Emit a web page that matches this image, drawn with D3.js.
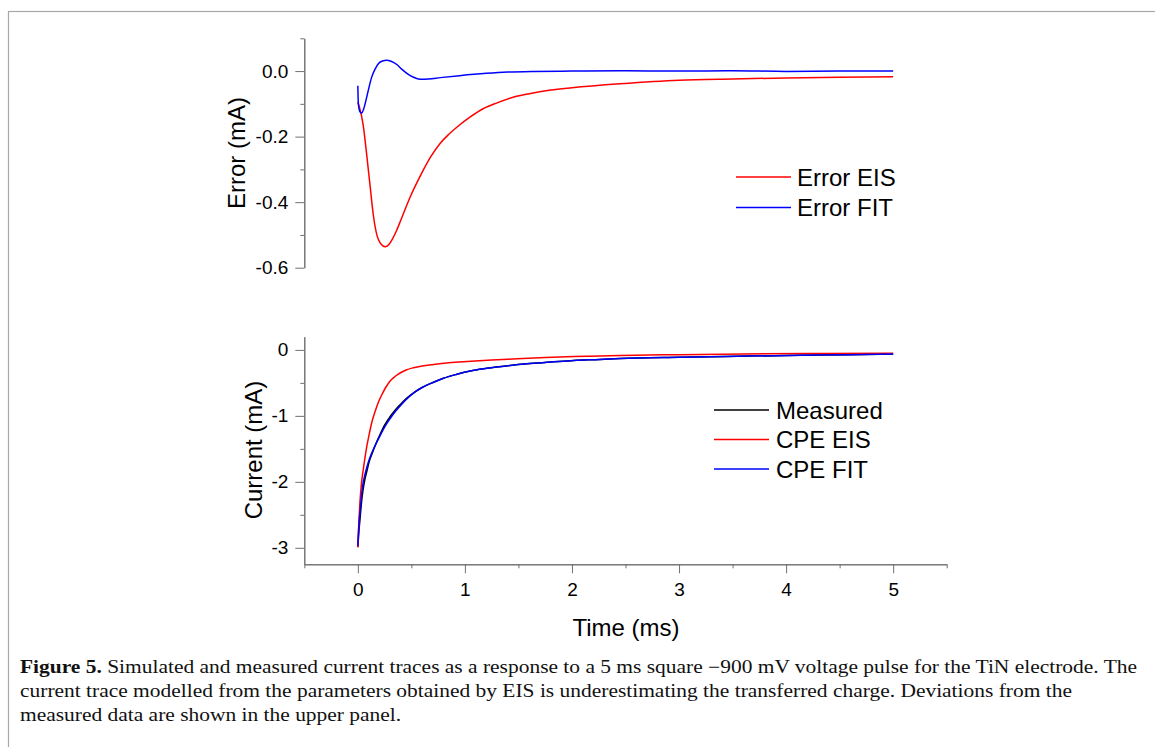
<!DOCTYPE html>
<html>
<head>
<meta charset="utf-8">
<script src="https://cdn.jsdelivr.net/npm/d3@7"></script>
<style>
  body { margin: 0; background: #fff; }
  svg { display: block; }
  .axis text { font-family: "Liberation Sans", Arial, sans-serif; font-size: 19px; fill: #000; }
  .axis path, .axis line { stroke: #707070; }
</style>
</head>
<body>
<svg id="drawing_region"></svg>
<script>
// upper panel: error traces (mA) vs time (ms)
const errEisTime = [0, 0.015, 0.05, 0.085, 0.115, 0.145, 0.18, 0.21, 0.255, 0.29, 0.32, 0.36, 0.40, 0.45, 0.50, 0.56, 0.61, 0.68, 0.77, 0.85, 0.93, 1.05, 1.17, 1.3, 1.45, 1.6, 1.8, 2.0, 2.45, 3.0, 3.5, 4.0, 4.5, 5.0];
const errEis = [-0.095, -0.11, -0.165, -0.262, -0.352, -0.44, -0.503, -0.525, -0.536, -0.529, -0.514, -0.488, -0.456, -0.415, -0.376, -0.335, -0.303, -0.262, -0.22, -0.193, -0.17, -0.14, -0.115, -0.097, -0.08, -0.069, -0.058, -0.051, -0.039, -0.028, -0.024, -0.021, -0.019, -0.017];

const errFitTime = [0, 0.005, 0.02, 0.037, 0.055, 0.084, 0.11, 0.131, 0.16, 0.193, 0.23, 0.271, 0.31, 0.364, 0.41, 0.458, 0.52, 0.582, 0.66, 0.77, 0.95, 1.2, 1.4, 1.64, 2.0, 2.45, 3.0, 3.5, 4.0, 4.5, 5.0];
const errFit = [-0.045, -0.1, -0.124, -0.128, -0.115, -0.078, -0.042, -0.017, 0.005, 0.023, 0.031, 0.033, 0.03, 0.02, 0.006, -0.007, -0.019, -0.025, -0.024, -0.02, -0.014, -0.007, -0.003, -0.001, 0.0, 0.001, 0.0, 0.001, -0.001, 0.0, 0.0];

// lower panel: current traces (mA) vs time (ms)
const curTime = [0, 0.01, 0.021, 0.035, 0.047, 0.065, 0.084, 0.105, 0.131, 0.17, 0.208, 0.25, 0.302, 0.35, 0.395, 0.45, 0.52, 0.6, 0.707, 0.8, 0.925, 1.05, 1.205, 1.4, 1.58, 1.8, 2.016, 2.26, 2.45, 3.0, 3.64, 4.3, 5.0];
const measured = [-2.99, -2.75, -2.55, -2.3, -2.14, -1.97, -1.84, -1.7, -1.58, -1.42, -1.28, -1.14, -1.01, -0.91, -0.83, -0.74, -0.65, -0.57, -0.49, -0.43, -0.37, -0.32, -0.28, -0.24, -0.21, -0.185, -0.16, -0.145, -0.13, -0.11, -0.094, -0.078, -0.064];
const cpeFit = [-2.97, -2.65, -2.45, -2.2, -2.04, -1.9, -1.78, -1.67, -1.56, -1.42, -1.30, -1.17, -1.04, -0.935, -0.85, -0.755, -0.655, -0.57, -0.49, -0.43, -0.37, -0.32, -0.28, -0.24, -0.21, -0.185, -0.16, -0.145, -0.13, -0.11, -0.094, -0.078, -0.064];

const eisTime = [0, 0.01, 0.02, 0.031, 0.052, 0.07, 0.084, 0.1, 0.115, 0.135, 0.162, 0.19, 0.224, 0.26, 0.302, 0.35, 0.395, 0.45, 0.52, 0.6, 0.707, 0.85, 1.02, 1.25, 1.49, 1.7, 1.95, 2.26, 2.45, 3.0, 3.6, 4.3, 5.0];
const cpeEis = [-2.99, -2.6, -2.3, -2.07, -1.8, -1.6, -1.46, -1.33, -1.21, -1.07, -0.93, -0.8, -0.68, -0.57, -0.47, -0.4, -0.35, -0.305, -0.27, -0.243, -0.22, -0.195, -0.175, -0.153, -0.135, -0.12, -0.104, -0.094, -0.086, -0.072, -0.062, -0.055, -0.049];

const xTicks = [0, 1, 2, 3, 4, 5];
const errTicks = [-0.6, -0.4, -0.2, 0.0];
const curTicks = [-3, -2, -1, 0];

const captionLines = [
  ["Figure 5.", " Simulated and measured current traces as a response to a 5 ms square \u2212900 mV voltage pulse for the TiN electrode. The"],
  ["", "current trace modelled from the parameters obtained by EIS is underestimating the transferred charge. Deviations from the"],
  ["", "measured data are shown in the upper panel."]
];

const zip = (xs, ys) => xs.map((x, i) => ({ x: x, y: ys[i] }));

const W = 1155, H = 747;
const svg = d3.select('#drawing_region').attr('width', W).attr('height', H);

// page frame
svg.append('rect')
  .attr('x', 8.5).attr('y', 11.5)
  .attr('width', 1200).attr('height', 800)
  .attr('fill', 'none').attr('stroke', '#a8a8a8').attr('stroke-width', 1.2);

const xscale = d3.scaleLinear().domain([-0.5, 5.5]).range([304.3, 946.7]);
const yErr = d3.scaleLinear().domain([-0.6, 0.1]).range([267.7, 38.3]);
const yCur = d3.scaleLinear().domain([-3.25, 0.2]).range([564.3, 336.7]);

function yAxis(scale, major, minor, fmt) {
  const g = svg.append('g').attr('class', 'axis')
    .attr('transform', `translate(${xscale.range()[0]},0)`);
  g.append('g').call(d3.axisLeft(scale).tickValues(minor).tickSize(4).tickSizeOuter(0).tickFormat(''));
  g.append('g').call(d3.axisLeft(scale).tickValues(major).tickSize(9).tickSizeOuter(0).tickPadding(7).tickFormat(fmt));
  return g;
}

yAxis(yErr, errTicks, [-0.5, -0.3, -0.1, 0.1], d => d.toFixed(1));
yAxis(yCur, curTicks, [-2.5, -1.5, -0.5], d => String(d));

const xg = svg.append('g').attr('class', 'axis')
  .attr('transform', `translate(0,${yCur.range()[0]})`);
xg.append('g').call(d3.axisBottom(xscale).tickValues([-0.5, 0.5, 1.5, 2.5, 3.5, 4.5, 5.5]).tickSize(4).tickSizeOuter(0).tickFormat(''));
xg.append('g').call(d3.axisBottom(xscale).tickValues(xTicks).tickSize(9).tickSizeOuter(0).tickPadding(9).tickFormat(d => String(d)));

// axis titles
const titleFont = '"Liberation Sans", Arial, sans-serif';
svg.append('text').attr('x', 626).attr('y', 636).attr('text-anchor', 'middle')
  .attr('font-family', titleFont).attr('font-size', 24).text('Time (ms)');
svg.append('text').attr('transform', 'translate(245,153) rotate(-90)').attr('text-anchor', 'middle')
  .attr('font-family', titleFont).attr('font-size', 24).text('Error (mA)');
svg.append('text').attr('transform', 'translate(262,450) rotate(-90)').attr('text-anchor', 'middle')
  .attr('font-family', titleFont).attr('font-size', 24).text('Current (mA)');

// curves
const lineErr = d3.line().x(d => xscale(d.x)).y(d => yErr(d.y)).curve(d3.curveMonotoneX);
const lineCur = d3.line().x(d => xscale(d.x)).y(d => yCur(d.y)).curve(d3.curveMonotoneX);

const curves = [
  { line: lineErr, data: zip(errEisTime, errEis), color: '#ff0000' },
  { line: lineErr, data: zip(errFitTime, errFit), color: '#0000ff' },
  { line: lineCur, data: zip(curTime, measured), color: '#000000' },
  { line: lineCur, data: zip(eisTime, cpeEis), color: '#ff0000' },
  { line: lineCur, data: zip(curTime, cpeFit), color: '#0000ff' }
];
curves.forEach(c => {
  svg.append('path')
    .attr('d', c.line(c.data))
    .attr('fill', 'none')
    .attr('stroke', c.color)
    .attr('stroke-width', 1.5)
    .attr('stroke-linejoin', 'round');
});

// legends
function legend(items, x0, x1, tx, y0, dy) {
  items.forEach((it, i) => {
    const y = y0 + i * dy;
    svg.append('line').attr('x1', x0).attr('x2', x1).attr('y1', y).attr('y2', y)
      .attr('stroke', it[1]).attr('stroke-width', 1.3);
    svg.append('text').attr('x', tx).attr('y', y + 8.5)
      .attr('font-family', titleFont).attr('font-size', 24).text(it[0]);
  });
}
legend([['Error EIS', '#ff0000'], ['Error FIT', '#0000ff']], 736, 791, 797, 177, 30.5);
legend([['Measured', '#000000'], ['CPE EIS', '#ff0000'], ['CPE FIT', '#0000ff']], 714, 769, 776, 410, 29.5);

// caption
const capFont = '"Liberation Serif", "Times New Roman", serif';
const capTexts = captionLines.map((ln, i) => {
  const t = svg.append('text').attr('x', 20).attr('y', 673.3 + i * 24)
    .attr('font-family', capFont).attr('font-size', 18).attr('fill', '#111');
  if (ln[0]) t.append('tspan').attr('font-weight', 'bold').text(ln[0]);
  t.append('tspan').text(ln[1]);
  return t;
});
const natural = capTexts.map(t => t.node().getComputedTextLength());
const k = 1117 / natural[0];
capTexts.forEach((t, i) => {
  t.attr('textLength', natural[i] * k).attr('lengthAdjust', 'spacingAndGlyphs');
});
</script>
</body>
</html>
